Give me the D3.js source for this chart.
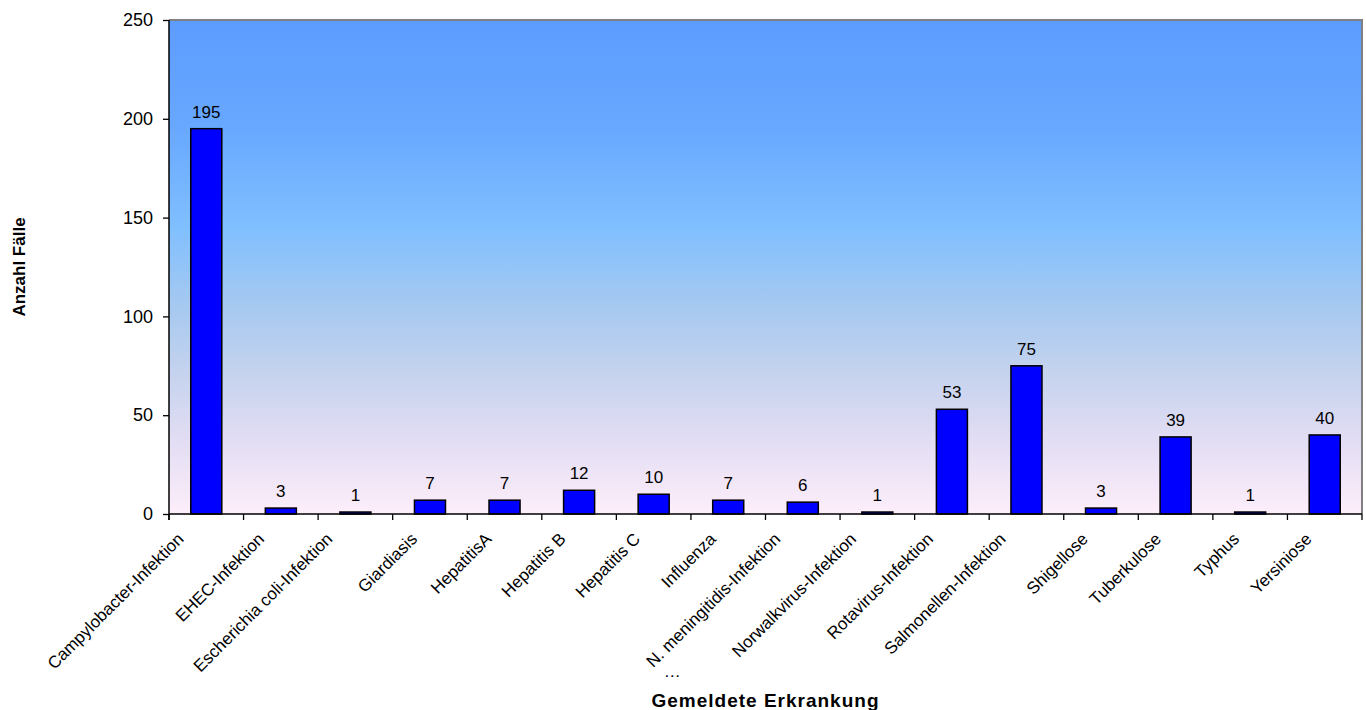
<!DOCTYPE html>
<html>
<head>
<meta charset="utf-8">
<script src="https://cdn.jsdelivr.net/npm/d3@7"></script>
<style>
  html, body { margin: 0; padding: 0; background: #ffffff; }
  svg { display: block; font-family: "Liberation Sans", Arial, sans-serif; }
</style>
</head>
<body>
<svg id="chart" width="1366" height="710"></svg>
<script>
// Gemeldete Erkrankungen – Anzahl Fälle
const categories = [
  "Campylobacter-Infektion", "EHEC-Infektion", "Escherichia coli-Infektion",
  "Giardiasis", "HepatitisA", "Hepatitis B", "Hepatitis C", "Influenza",
  "N. meningitidis-Infektion", "Norwalkvirus-Infektion", "Rotavirus-Infektion",
  "Salmonellen-Infektion", "Shigellose", "Tuberkulose", "Typhus", "Yersiniose"
];
const cases = [195, 3, 1, 7, 7, 12, 10, 7, 6, 1, 53, 75, 3, 39, 1, 40];
const yTicks = [0, 50, 100, 150, 200, 250];
const xTitle = "Gemeldete Erkrankung";
const yTitle = "Anzahl Fälle";
const truncatedLabel = "N. meningitidis-Infektion";

const svg = d3.select("#chart");
const margin = { left: 169, top: 20, right: 4, bottom: 196 };
const W = 1366, H = 710;
const plotW = W - margin.left - margin.right;
const plotH = H - margin.top - margin.bottom;

const x = d3.scaleBand().domain(categories).range([0, plotW]).paddingInner(0.584).paddingOuter(0.292);
const xb = d3.scaleBand().domain(categories).range([0, plotW]);
const y = d3.scaleLinear().domain([0, 250]).range([plotH, 0]);

// background gradient of the plot area
const defs = svg.append("defs");
const grad = defs.append("linearGradient").attr("id", "bg").attr("x1", 0).attr("y1", 0).attr("x2", 0).attr("y2", 1);
[[0, "#5c9cff"], [0.22, "#68a8ff"], [0.42, "#80bfff"], [0.58, "#a6c9f0"], [0.72, "#c6d3ee"], [0.86, "#e4def4"], [1, "#fdeefa"]]
  .forEach(([o, c]) => grad.append("stop").attr("offset", o).attr("stop-color", c));

const g = svg.append("g").attr("transform", `translate(${margin.left},${margin.top})`);

g.append("rect").attr("width", plotW).attr("height", plotH).attr("fill", "url(#bg)");

// grey frame on top and right
g.append("path")
  .attr("d", `M0,0H${plotW}V${plotH}`)
  .attr("fill", "none").attr("stroke", "#808080").attr("stroke-width", 2);

// bars
g.selectAll("rect.bar").data(cases).join("rect")
  .attr("class", "bar")
  .attr("x", (d, i) => x(categories[i]))
  .attr("width", x.bandwidth())
  .attr("y", d => y(d))
  .attr("height", d => y(0) - y(d))
  .attr("fill", "#0000ff")
  .attr("stroke", "#000000")
  .attr("stroke-width", 1.5);

// value labels
g.selectAll("text.val").data(cases).join("text")
  .attr("class", "val")
  .attr("x", (d, i) => x(categories[i]) + x.bandwidth() / 2)
  .attr("y", d => y(d) - 11)
  .attr("text-anchor", "middle")
  .attr("font-size", 17)
  .attr("fill", "#000")
  .text(d => d);

// y axis
const yAxis = d3.axisLeft(y).tickValues(yTicks).tickSize(6).tickPadding(10).tickFormat(d3.format("d"));
const ya = g.append("g").call(yAxis);
ya.select(".domain").attr("stroke", "#000").attr("stroke-width", 1.5).attr("d", `M0,0V${plotH + 6}`);
ya.selectAll(".tick line").attr("stroke", "#000").attr("stroke-width", 1.3);
ya.selectAll(".tick text").attr("font-size", 18).attr("font-family", "Liberation Sans, Arial, sans-serif").attr("fill", "#000");

// x axis: ticks at category boundaries
const xa = g.append("g").attr("transform", `translate(0,${plotH})`);
xa.append("line").attr("x1", 0).attr("x2", plotW).attr("stroke", "#000").attr("stroke-width", 1.5);
const bounds = categories.map(c => xb(c)).concat([plotW]);
xa.selectAll("line.tk").data(bounds).join("line")
  .attr("class", "tk")
  .attr("x1", d => d).attr("x2", d => d)
  .attr("y1", 0).attr("y2", 6)
  .attr("stroke", "#000").attr("stroke-width", 1.3);

// rotated category labels
const labels = xa.selectAll("text.cat").data(categories).join("text")
  .attr("class", "cat")
  .attr("font-size", 17)
  .attr("fill", "#000")
  .attr("text-anchor", "end")
  .text(d => d);

labels.each(function (d) {
  const len = this.getComputedTextLength();
  const cx = xb(d) + xb.bandwidth() / 2 - 5 - len * 0.09;
  const cy = 26;
  d3.select(this).attr("transform", `translate(${cx},${cy}) rotate(-45)`);
  if (d === truncatedLabel) {
    const sx = cx - len * Math.SQRT1_2;
    const sy = cy + len * Math.SQRT1_2;
    xa.append("text")
      .attr("x", sx + 19).attr("y", sy + 9)
      .attr("text-anchor", "middle")
      .attr("font-size", 17)
      .attr("fill", "#000")
      .text("…");
  }
});

// axis titles
svg.append("text")
  .attr("x", margin.left + plotW / 2).attr("y", 707)
  .attr("text-anchor", "middle")
  .attr("font-size", 19).attr("font-weight", "bold")
  .attr("letter-spacing", 1)
  .text(xTitle);

svg.append("text")
  .attr("transform", `translate(25,${margin.top + plotH / 2}) rotate(-90)`)
  .attr("text-anchor", "middle")
  .attr("font-size", 17).attr("font-weight", "bold")
  .text(yTitle);
</script>
</body>
</html>
